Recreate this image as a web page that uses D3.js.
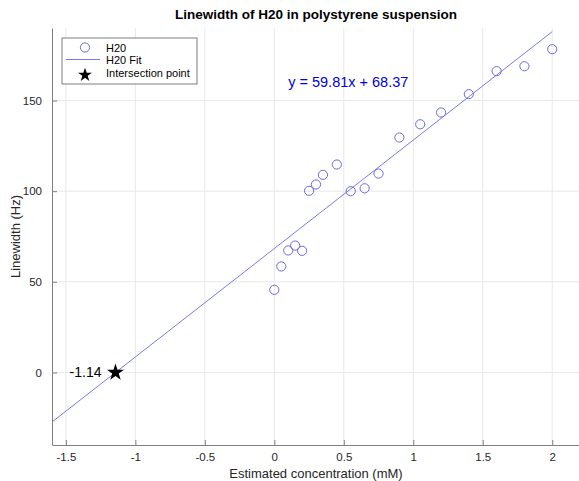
<!DOCTYPE html>
<html>
<head>
<meta charset="utf-8">
<script src="https://cdn.jsdelivr.net/npm/d3@7"></script>
<style>
  body { margin: 0; background: #fff; }
  svg { font-family: "Liberation Sans", Arial, Helvetica, sans-serif; }
</style>
</head>
<body>
<svg id="chart"></svg>
<script>
// concentration (mM) and linewidth (Hz)
var concentration = [0, 0.05, 0.1, 0.15, 0.2, 0.25, 0.3, 0.35, 0.45, 0.55, 0.65, 0.75, 0.9, 1.05, 1.2, 1.4, 1.6, 1.8, 2.0];
var linewidth = [45.6, 58.5, 67.3, 70, 67.1, 100.2, 103.7, 109, 114.7, 100, 101.6, 109.7, 129.6, 136.9, 143.4, 153.5, 166.2, 168.9, 178.3];
var fitSlope = 59.81;
var fitIntercept = 68.37;
var fitRange = [-1.6, 2.0];
var xTicks = [-1.5, -1, -0.5, 0, 0.5, 1, 1.5, 2];
var yTicks = [0, 50, 100, 150];
var legendLabels = ["H20", "H20 Fit", "Intersection point"];

var width = 579, height = 481;
var margin = {left: 52, right: -1, top: 28, bottom: 36};
var svg = d3.select('#chart').attr('width', width).attr('height', height);

var x = d3.scaleLinear().domain([-1.6, 2.2]).range([margin.left, width - margin.right]);
var y = d3.scaleLinear().domain([-40, 190]).range([height - margin.bottom, margin.top]);

var markColor = "#6b6be0";
var textColor = "#262626";
var axisColor = "#808080";

// grid
var grid = svg.append("g").attr("stroke", "#e8e8e8").attr("stroke-width", 1);
grid.selectAll(".gx").data(xTicks).enter().append("line")
    .attr("x1", d => x(d)).attr("x2", d => x(d))
    .attr("y1", y.range()[0]).attr("y2", y.range()[1]);
grid.selectAll(".gy").data(yTicks).enter().append("line")
    .attr("x1", x.range()[0]).attr("x2", x.range()[1])
    .attr("y1", d => y(d)).attr("y2", d => y(d));

// axes
var xAxis = svg.append("g")
    .attr("transform", "translate(0," + y.range()[0] + ")")
    .call(d3.axisBottom(x).tickValues(xTicks).tickSizeInner(-5).tickSizeOuter(0).tickPadding(8)
      .tickFormat(d3.format("")));
var yAxis = svg.append("g")
    .attr("transform", "translate(" + x.range()[0] + ",0)")
    .call(d3.axisLeft(y).tickValues(yTicks).tickSizeInner(-5).tickSizeOuter(0).tickPadding(10));

[xAxis, yAxis].forEach(function(a){
  a.select(".domain").attr("stroke", axisColor);
  a.selectAll(".tick line").attr("stroke", axisColor);
  a.selectAll(".tick text").attr("fill", textColor).attr("font-size", 11.5)
    .attr("font-family", "Liberation Sans, Arial, sans-serif");
});
xAxis.selectAll(".tick text").text(d => d < 0 ? "-" + Math.abs(d) : d);

// fit line
svg.append("line")
    .attr("x1", x(fitRange[0])).attr("y1", y(fitSlope * fitRange[0] + fitIntercept))
    .attr("x2", x(fitRange[1])).attr("y2", y(fitSlope * fitRange[1] + fitIntercept))
    .attr("stroke", markColor).attr("stroke-width", 0.9);

// data points
svg.append("g").selectAll("circle")
    .data(concentration)
    .enter()
    .append("circle")
    .attr("cx", d => x(d))
    .attr("cy", (d, i) => y(linewidth[i]))
    .attr("r", 4.6)
    .attr("fill", "none")
    .attr("stroke", markColor)
    .attr("stroke-width", 1);

// intersection
var xInt = -fitIntercept / fitSlope;
var star = d3.symbol().type(d3.symbolStar).size(90);
svg.append("path").attr("d", star)
    .attr("transform", "translate(" + x(xInt) + "," + y(0) + ")")
    .attr("fill", "#000");
svg.append("text")
    .attr("x", x(xInt) - 14).attr("y", y(0) + 5)
    .attr("text-anchor", "end").attr("font-size", 14).attr("fill", "#000")
    .text(xInt.toFixed(2));

// equation
svg.append("text")
    .attr("x", x(0.1)).attr("y", 87)
    .attr("font-size", 14.5).attr("fill", "#0000e0")
    .text("y = " + fitSlope.toFixed(2) + "x + " + fitIntercept.toFixed(2));

// title and labels
svg.append("text")
    .attr("x", (x.range()[0] + x.range()[1]) / 2).attr("y", 19)
    .attr("text-anchor", "middle").attr("font-size", 13.5).attr("font-weight", "bold")
    .attr("fill", "#000")
    .text("Linewidth of H20 in polystyrene suspension");
svg.append("text")
    .attr("x", (x.range()[0] + x.range()[1]) / 2).attr("y", 478)
    .attr("text-anchor", "middle").attr("font-size", 13).attr("fill", textColor)
    .text("Estimated concentration (mM)");
svg.append("text")
    .attr("transform", "translate(20," + (y.range()[0] + y.range()[1]) / 2 + ") rotate(-90)")
    .attr("text-anchor", "middle").attr("font-size", 13).attr("fill", textColor)
    .text("Linewidth (Hz)");

// legend
var legend = svg.append("g").attr("transform", "translate(62,38)");
legend.append("rect").attr("width", 135).attr("height", 46)
    .attr("fill", "#fff").attr("stroke", "#262626").attr("stroke-width", 0.6);
legend.append("circle").attr("cx", 23).attr("cy", 9.5).attr("r", 4.6)
    .attr("fill", "none").attr("stroke", markColor);
legend.append("line").attr("x1", 4).attr("x2", 38).attr("y1", 21.5).attr("y2", 21.5)
    .attr("stroke", markColor).attr("stroke-width", 0.9);
legend.append("path").attr("d", d3.symbol().type(d3.symbolStar).size(60))
    .attr("transform", "translate(23,37)").attr("fill", "#000");
legend.selectAll(".lt").data(legendLabels).enter().append("text")
    .attr("x", 44).attr("y", (d, i) => 13.5 + i * 12.5)
    .attr("font-size", 11).attr("fill", "#000")
    .text(d => d);
</script>
</body>
</html>
